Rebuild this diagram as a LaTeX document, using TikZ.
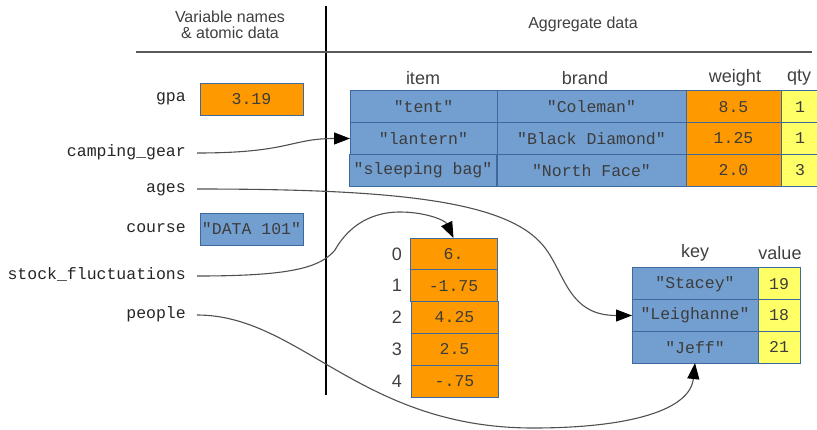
\documentclass[tikz,border=0pt]{standalone}
\usepackage{fontspec}
\setmainfont{Liberation Sans}
\newfontfamily\monof{Liberation Mono}
\usetikzlibrary{arrows.meta}
\definecolor{cblue}{RGB}{114,159,207}
\definecolor{corange}{RGB}{255,153,0}
\definecolor{cyellow}{RGB}{255,255,102}
\definecolor{cborder}{RGB}{62,104,160}
\definecolor{ctext}{RGB}{60,60,60}
\definecolor{cline}{RGB}{80,80,80}
\begin{document}
\begin{tikzpicture}[x=1pt,y=-1pt,
  cell/.style={draw=cborder, line width=1pt, inner sep=0pt, outer sep=0pt,
    font=\monof\fontsize{16.5}{18}\selectfont, text=ctext, minimum height=31.7pt},
  bluecell/.style={cell, fill=cblue},
  orgcell/.style={cell, fill=corange},
  yelcell/.style={cell, fill=cyellow},
  varname/.style={font=\monof\fontsize{16.5}{18}\selectfont, text=black!85,
    anchor=east, inner xsep=11pt, inner ysep=0pt, text height=9pt, text depth=3pt},
  hdr/.style={font=\fontsize{16}{15.5}\selectfont, text=black!75, inner sep=0pt},
  colhdr/.style={font=\fontsize{18}{18}\selectfont, text=black!75, inner sep=0pt},
  conn/.style={draw=cline, line width=1.1pt, -{Triangle[length=16pt,width=12pt,color=black]}}
]
\clip (0,0) rectangle (817,429);
\fill[white] (0,0) rectangle (817,429);

% headers
\node[hdr, align=center] (hleft) at (230,25) {Variable names\\\& atomic data};
\node[hdr] (hright) at (583,24) {Aggregate data};
\coordinate (vtop) at (326,6);
\coordinate (vbot) at (326,395);
\coordinate (hl) at (136,52);
\coordinate (hr) at (812,52);
\draw[line width=1.3pt] (vtop) -- (vbot);
\draw[line width=2pt, draw=black!65] (hl) -- (hr);

% variable names
\node[varname] (vgpa) at (197,98) {gpa};
\node[varname] (vcg) at (197,153) {camping\_gear};
\node[varname] (vages) at (197,189) {ages};
\node[varname] (vcourse) at (197,229) {course};
\node[varname] (vstock) at (197,276) {stock\_fluctuations};
\node[varname] (vpeople) at (197,315) {people};

% atomic values
\node[orgcell, minimum width=103pt, minimum height=32pt] (gpabox) at (251.5,99) {3.19};
\node[bluecell, minimum width=103pt, minimum height=32pt] (coursebox) at (251.5,229) {"DATA 101"};

% table headers
\node[colhdr] (hitem) at (423,78) {item};
\node[colhdr] (hbrand) at (585,78) {brand};
\node[colhdr] (hweight) at (735,78) {weight};
\node[colhdr] (hqty) at (799,78) {qty};

% table
\node[bluecell, minimum width=147pt] (t11) at (423.5,106.8) {"tent"};
\node[bluecell, minimum width=189pt] (t12) at (591.5,106.8) {"Coleman"};
\node[orgcell, minimum width=95pt] (t13) at (733.5,106.8) {8.5};
\node[yelcell, minimum width=38pt] (t14) at (800,106.8) {1};
\node[bluecell, minimum width=147pt] (t21) at (423.5,138.5) {"lantern"};
\node[bluecell, minimum width=189pt] (t22) at (591.5,138.5) {"Black Diamond"};
\node[orgcell, minimum width=95pt] (t23) at (733.5,138.5) {1.25};
\node[yelcell, minimum width=38pt] (t24) at (800,138.5) {1};
\node[bluecell, minimum width=147pt] (t31) at (423,170.2) {"sleeping bag"};
\node[bluecell, minimum width=189pt] (t32) at (591.5,170.2) {"North Face"};
\node[orgcell, minimum width=95pt] (t33) at (733.5,170.2) {2.0};
\node[yelcell, minimum width=38pt] (t34) at (800,170.2) {3};

% array
\node[orgcell, minimum width=87pt, minimum height=31.8pt] (a0) at (453.5,253.9) {6.};
\node[orgcell, minimum width=87pt, minimum height=31.8pt] (a1) at (453.5,285.7) {-1.75};
\node[orgcell, minimum width=87pt, minimum height=31.8pt] (a2) at (454.5,317.5) {4.25};
\node[orgcell, minimum width=87pt, minimum height=31.8pt] (a3) at (454.5,349.3) {2.5};
\node[orgcell, minimum width=87pt, minimum height=31.8pt] (a4) at (454.5,381.1) {-.75};
\node[colhdr] (i0) at (397,253.9) {0};
\node[colhdr] (i1) at (397,285.7) {1};
\node[colhdr] (i2) at (397,317.5) {2};
\node[colhdr] (i3) at (397,349.3) {3};
\node[colhdr] (i4) at (397,381.1) {4};

% dictionary
\node[colhdr] (hkey) at (695,253) {key};
\node[colhdr] (hvalue) at (780,253) {value};
\node[bluecell, minimum width=126pt] (d11) at (695,283.8) {"Stacey"};
\node[yelcell, minimum width=42pt] (d12) at (779,283.8) {19};
\node[bluecell, minimum width=126pt] (d21) at (695,315.5) {"Leighanne"};
\node[yelcell, minimum width=42pt] (d22) at (779,315.5) {18};
\node[bluecell, minimum width=126pt] (d31) at (695,347.2) {"Jeff"};
\node[yelcell, minimum width=42pt] (d32) at (779,347.2) {21};

% connectors
\draw[conn] (vcg.east) .. controls (290,153) and (290,138.5) .. (t21.west);
\draw[conn] (vages.east) .. controls (390,189) and (500,200) .. (540,242)
  .. controls (565,268) and (565,315.5) .. (d21.west);
\draw[conn] (vstock.east) .. controls (290,276) and (320,268) .. (335,250)
  .. controls (345,232) and (365,212) .. (400,212)
  .. controls (425,212) and (445,220) .. (a0.north);
\draw[conn] (vpeople.east) .. controls (300,315) and (360,428) .. (533,428)
  .. controls (630,428) and (690,410) .. (d31.south);
\end{tikzpicture}
\end{document}
